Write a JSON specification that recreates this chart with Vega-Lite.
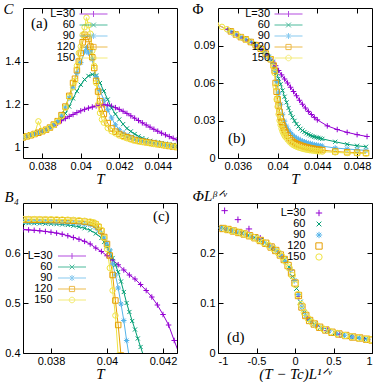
{
"$schema": "https://vega.github.io/schema/vega-lite/v6.json",
"padding": {"left": 2, "top": 0, "right": 0, "bottom": 0},
"config": {
  "view": {"stroke": "black", "strokeWidth": 1},
  "axis": {"domain": false, "ticks": false, "grid": true, "gridColor": "black", "gridWidth": 1, "gridOpacity": 1, "labelFont": "Liberation Sans", "labelFontSize": 11, "labelColor": "black", "titleFont": "Liberation Serif", "titleFontStyle": "italic", "titleFontWeight": "normal", "titleFontSize": 15, "titleColor": "black", "format": "~g", "labelExpr": "replace(datum.label, '\u2212', '-')"},
  "axisX": {"gridDash": [5, 140, 5, 1000], "labelPadding": 2, "titleBaseline": "alphabetic", "titleY": 25},
  "axisY": {"gridDash": [5, 144, 5, 1000], "labelPadding": 3, "titleAngle": 0, "titleAlign": "left", "titleBaseline": "alphabetic"},
  "legend": {"title": null, "orient": "none", "labelAlign": "right", "labelFont": "Liberation Sans", "labelFontSize": 11, "labelColor": "black", "labelOffset": 4, "symbolStrokeWidth": 1, "symbolSize": 64, "padding": 0},
  "text": {"font": "Liberation Serif", "fontSize": 15, "align": "left", "baseline": "middle", "color": "black"}
},
"datasets": {
"a": [
{"L":30,"T":0.0370,"v":1.046},{"L":30,"T":0.0372,"v":1.051},{"L":30,"T":0.0374,"v":1.056},{"L":30,"T":0.0376,"v":1.062},{"L":30,"T":0.0378,"v":1.068},{"L":30,"T":0.0380,"v":1.075},{"L":30,"T":0.0382,"v":1.082},{"L":30,"T":0.0384,"v":1.090},{"L":30,"T":0.0386,"v":1.102},{"L":30,"T":0.0388,"v":1.113},{"L":30,"T":0.0390,"v":1.124},{"L":30,"T":0.0392,"v":1.134},{"L":30,"T":0.0394,"v":1.144},{"L":30,"T":0.0396,"v":1.153},{"L":30,"T":0.0398,"v":1.162},{"L":30,"T":0.0400,"v":1.170},{"L":30,"T":0.0402,"v":1.177},{"L":30,"T":0.0404,"v":1.183},{"L":30,"T":0.0406,"v":1.188},{"L":30,"T":0.0408,"v":1.193},{"L":30,"T":0.0410,"v":1.196},{"L":30,"T":0.0412,"v":1.198},{"L":30,"T":0.0414,"v":1.197},{"L":30,"T":0.0416,"v":1.192},{"L":30,"T":0.0418,"v":1.185},{"L":30,"T":0.0420,"v":1.177},{"L":30,"T":0.0422,"v":1.168},{"L":30,"T":0.0424,"v":1.158},{"L":30,"T":0.0426,"v":1.147},{"L":30,"T":0.0428,"v":1.136},{"L":30,"T":0.0430,"v":1.125},{"L":30,"T":0.0432,"v":1.114},{"L":30,"T":0.0434,"v":1.104},{"L":30,"T":0.0436,"v":1.094},{"L":30,"T":0.0438,"v":1.084},{"L":30,"T":0.0440,"v":1.075},{"L":30,"T":0.0442,"v":1.066},{"L":30,"T":0.0444,"v":1.058},{"L":30,"T":0.0446,"v":1.050},{"L":30,"T":0.0448,"v":1.042},{"L":30,"T":0.0450,"v":1.035},
{"L":60,"T":0.0370,"v":1.046},{"L":60,"T":0.0372,"v":1.051},{"L":60,"T":0.0374,"v":1.056},{"L":60,"T":0.0376,"v":1.062},{"L":60,"T":0.0378,"v":1.068},{"L":60,"T":0.0380,"v":1.075},{"L":60,"T":0.0382,"v":1.082},{"L":60,"T":0.0384,"v":1.091},{"L":60,"T":0.0386,"v":1.103},{"L":60,"T":0.0388,"v":1.118},{"L":60,"T":0.0390,"v":1.136},{"L":60,"T":0.0392,"v":1.158},{"L":60,"T":0.0394,"v":1.190},{"L":60,"T":0.0396,"v":1.228},{"L":60,"T":0.0398,"v":1.262},{"L":60,"T":0.0400,"v":1.292},{"L":60,"T":0.0402,"v":1.316},{"L":60,"T":0.0404,"v":1.333},{"L":60,"T":0.0406,"v":1.340},{"L":60,"T":0.0408,"v":1.335},{"L":60,"T":0.0410,"v":1.300},{"L":60,"T":0.0412,"v":1.262},{"L":60,"T":0.0414,"v":1.223},{"L":60,"T":0.0416,"v":1.183},{"L":60,"T":0.0418,"v":1.155},{"L":60,"T":0.0420,"v":1.130},{"L":60,"T":0.0422,"v":1.108},{"L":60,"T":0.0424,"v":1.088},{"L":60,"T":0.0426,"v":1.074},{"L":60,"T":0.0428,"v":1.062},{"L":60,"T":0.0430,"v":1.051},{"L":60,"T":0.0432,"v":1.043},{"L":60,"T":0.0434,"v":1.036},{"L":60,"T":0.0436,"v":1.030},{"L":60,"T":0.0438,"v":1.026},{"L":60,"T":0.0440,"v":1.023},{"L":60,"T":0.0442,"v":1.020},{"L":60,"T":0.0444,"v":1.017},{"L":60,"T":0.0446,"v":1.014},{"L":60,"T":0.0448,"v":1.011},{"L":60,"T":0.0450,"v":1.009},
{"L":90,"T":0.0370,"v":1.046},{"L":90,"T":0.0372,"v":1.051},{"L":90,"T":0.0374,"v":1.056},{"L":90,"T":0.0376,"v":1.062},{"L":90,"T":0.0378,"v":1.068},{"L":90,"T":0.0380,"v":1.075},{"L":90,"T":0.0382,"v":1.082},{"L":90,"T":0.0384,"v":1.092},{"L":90,"T":0.0386,"v":1.105},{"L":90,"T":0.0388,"v":1.120},{"L":90,"T":0.0390,"v":1.150},{"L":90,"T":0.0392,"v":1.188},{"L":90,"T":0.0394,"v":1.230},{"L":90,"T":0.0396,"v":1.280},{"L":90,"T":0.0398,"v":1.345},{"L":90,"T":0.0400,"v":1.395},{"L":90,"T":0.0402,"v":1.445},{"L":90,"T":0.0403,"v":1.465},{"L":90,"T":0.0404,"v":1.440},{"L":90,"T":0.0405,"v":1.450},{"L":90,"T":0.0406,"v":1.410},{"L":90,"T":0.0408,"v":1.330},{"L":90,"T":0.0410,"v":1.265},{"L":90,"T":0.0412,"v":1.220},{"L":90,"T":0.0414,"v":1.175},{"L":90,"T":0.0416,"v":1.137},{"L":90,"T":0.0418,"v":1.105},{"L":90,"T":0.0420,"v":1.082},{"L":90,"T":0.0422,"v":1.066},{"L":90,"T":0.0424,"v":1.055},{"L":90,"T":0.0426,"v":1.047},{"L":90,"T":0.0428,"v":1.041},{"L":90,"T":0.0430,"v":1.036},{"L":90,"T":0.0432,"v":1.032},{"L":90,"T":0.0434,"v":1.028},{"L":90,"T":0.0436,"v":1.025},{"L":90,"T":0.0438,"v":1.022},{"L":90,"T":0.0440,"v":1.019},{"L":90,"T":0.0442,"v":1.016},{"L":90,"T":0.0444,"v":1.013},{"L":90,"T":0.0446,"v":1.010},{"L":90,"T":0.0448,"v":1.007},{"L":90,"T":0.0450,"v":1.004},
{"L":120,"T":0.0370,"v":1.046},{"L":120,"T":0.0372,"v":1.051},{"L":120,"T":0.0374,"v":1.056},{"L":120,"T":0.0376,"v":1.062},{"L":120,"T":0.0378,"v":1.068},{"L":120,"T":0.0380,"v":1.075},{"L":120,"T":0.0382,"v":1.082},{"L":120,"T":0.0384,"v":1.092},{"L":120,"T":0.0386,"v":1.106},{"L":120,"T":0.0388,"v":1.122},{"L":120,"T":0.0390,"v":1.150},{"L":120,"T":0.0392,"v":1.190},{"L":120,"T":0.0394,"v":1.240},{"L":120,"T":0.0396,"v":1.300},{"L":120,"T":0.0397,"v":1.320},{"L":120,"T":0.0398,"v":1.360},{"L":120,"T":0.0399,"v":1.400},{"L":120,"T":0.0400,"v":1.440},{"L":120,"T":0.0401,"v":1.490},{"L":120,"T":0.0402,"v":1.525},{"L":120,"T":0.0403,"v":1.515},{"L":120,"T":0.0404,"v":1.505},{"L":120,"T":0.0405,"v":1.470},{"L":120,"T":0.0406,"v":1.420},{"L":120,"T":0.0407,"v":1.370},{"L":120,"T":0.0408,"v":1.310},{"L":120,"T":0.0409,"v":1.260},{"L":120,"T":0.0410,"v":1.215},{"L":120,"T":0.0411,"v":1.180},{"L":120,"T":0.0412,"v":1.155},{"L":120,"T":0.0414,"v":1.113},{"L":120,"T":0.0416,"v":1.088},{"L":120,"T":0.0418,"v":1.073},{"L":120,"T":0.0420,"v":1.062},{"L":120,"T":0.0422,"v":1.054},{"L":120,"T":0.0424,"v":1.047},{"L":120,"T":0.0426,"v":1.041},{"L":120,"T":0.0428,"v":1.034},{"L":120,"T":0.0430,"v":1.030},{"L":120,"T":0.0432,"v":1.027},{"L":120,"T":0.0434,"v":1.024},{"L":120,"T":0.0436,"v":1.021},{"L":120,"T":0.0438,"v":1.018},{"L":120,"T":0.0440,"v":1.015},{"L":120,"T":0.0442,"v":1.012},{"L":120,"T":0.0444,"v":1.009},{"L":120,"T":0.0446,"v":1.006},{"L":120,"T":0.0448,"v":1.003},{"L":120,"T":0.0450,"v":1.001},
{"L":150,"T":0.0370,"v":1.046},{"L":150,"T":0.0372,"v":1.051},{"L":150,"T":0.0374,"v":1.057},{"L":150,"T":0.0376,"v":1.062},{"L":150,"T":0.0378,"v":1.121},{"L":150,"T":0.0380,"v":1.075},{"L":150,"T":0.0382,"v":1.083},{"L":150,"T":0.0384,"v":1.092},{"L":150,"T":0.0386,"v":1.104},{"L":150,"T":0.0388,"v":1.120},{"L":150,"T":0.0390,"v":1.145},{"L":150,"T":0.0392,"v":1.185},{"L":150,"T":0.0394,"v":1.235},{"L":150,"T":0.0396,"v":1.280},{"L":150,"T":0.0397,"v":1.310},{"L":150,"T":0.0398,"v":1.380},{"L":150,"T":0.0399,"v":1.440},{"L":150,"T":0.0400,"v":1.470},{"L":150,"T":0.0401,"v":1.525},{"L":150,"T":0.0402,"v":1.560},{"L":150,"T":0.0403,"v":1.605},{"L":150,"T":0.0404,"v":1.570},{"L":150,"T":0.0405,"v":1.530},{"L":150,"T":0.0406,"v":1.450},{"L":150,"T":0.0407,"v":1.380},{"L":150,"T":0.0408,"v":1.300},{"L":150,"T":0.0409,"v":1.200},{"L":150,"T":0.0410,"v":1.160},{"L":150,"T":0.0411,"v":1.130},{"L":150,"T":0.0412,"v":1.115},{"L":150,"T":0.0414,"v":1.090},{"L":150,"T":0.0416,"v":1.075},{"L":150,"T":0.0418,"v":1.065},{"L":150,"T":0.0420,"v":1.055},{"L":150,"T":0.0422,"v":1.048},{"L":150,"T":0.0424,"v":1.042},{"L":150,"T":0.0426,"v":1.036},{"L":150,"T":0.0428,"v":1.031},{"L":150,"T":0.0430,"v":1.027},{"L":150,"T":0.0432,"v":1.024},{"L":150,"T":0.0434,"v":1.021},{"L":150,"T":0.0436,"v":1.018},{"L":150,"T":0.0438,"v":1.015},{"L":150,"T":0.0440,"v":1.013},{"L":150,"T":0.0442,"v":1.010},{"L":150,"T":0.0444,"v":1.008},{"L":150,"T":0.0446,"v":1.006},{"L":150,"T":0.0448,"v":1.003},{"L":150,"T":0.0450,"v":1.001}
],
"b": [
{"L":30,"T":0.0338,"v":0.1070},{"L":30,"T":0.0350,"v":0.1027},{"L":30,"T":0.0353,"v":0.1013},{"L":30,"T":0.0356,"v":0.0998},{"L":30,"T":0.0359,"v":0.0984},{"L":30,"T":0.0362,"v":0.0971},{"L":30,"T":0.0365,"v":0.0960},{"L":30,"T":0.0368,"v":0.0949},{"L":30,"T":0.0371,"v":0.0937},{"L":30,"T":0.0374,"v":0.0923},{"L":30,"T":0.0377,"v":0.0908},{"L":30,"T":0.0380,"v":0.0893},{"L":30,"T":0.0383,"v":0.0876},{"L":30,"T":0.0386,"v":0.0857},{"L":30,"T":0.0389,"v":0.0835},{"L":30,"T":0.0392,"v":0.0808},{"L":30,"T":0.0395,"v":0.0775},{"L":30,"T":0.0398,"v":0.0738},{"L":30,"T":0.0401,"v":0.0700},{"L":30,"T":0.0404,"v":0.0665},{"L":30,"T":0.0407,"v":0.0632},{"L":30,"T":0.0410,"v":0.0600},{"L":30,"T":0.0413,"v":0.0566},{"L":30,"T":0.0416,"v":0.0532},{"L":30,"T":0.0419,"v":0.0498},{"L":30,"T":0.0422,"v":0.0462},{"L":30,"T":0.0425,"v":0.0430},{"L":30,"T":0.0428,"v":0.0400},{"L":30,"T":0.0431,"v":0.0373},{"L":30,"T":0.0434,"v":0.0348},{"L":30,"T":0.0437,"v":0.0325},{"L":30,"T":0.0440,"v":0.0305},{"L":30,"T":0.0450,"v":0.0257},{"L":30,"T":0.0460,"v":0.0228},{"L":30,"T":0.0470,"v":0.0205},{"L":30,"T":0.0480,"v":0.0187},{"L":30,"T":0.0490,"v":0.0172},
{"L":60,"T":0.0351,"v":0.1023},{"L":60,"T":0.0356,"v":0.0998},{"L":60,"T":0.0361,"v":0.0975},{"L":60,"T":0.0366,"v":0.0956},{"L":60,"T":0.0371,"v":0.0937},{"L":60,"T":0.0376,"v":0.0913},{"L":60,"T":0.0381,"v":0.0887},{"L":60,"T":0.0386,"v":0.0853},{"L":60,"T":0.0391,"v":0.0810},{"L":60,"T":0.0395,"v":0.0770},{"L":60,"T":0.0397,"v":0.0718},{"L":60,"T":0.0399,"v":0.0680},{"L":60,"T":0.0401,"v":0.0635},{"L":60,"T":0.0403,"v":0.0590},{"L":60,"T":0.0405,"v":0.0540},{"L":60,"T":0.0407,"v":0.0490},{"L":60,"T":0.0409,"v":0.0445},{"L":60,"T":0.0411,"v":0.0400},{"L":60,"T":0.0413,"v":0.0360},{"L":60,"T":0.0415,"v":0.0325},{"L":60,"T":0.0417,"v":0.0297},{"L":60,"T":0.0419,"v":0.0272},{"L":60,"T":0.0421,"v":0.0252},{"L":60,"T":0.0423,"v":0.0234},{"L":60,"T":0.0425,"v":0.0220},{"L":60,"T":0.0427,"v":0.0208},{"L":60,"T":0.0429,"v":0.0197},{"L":60,"T":0.0431,"v":0.0189},{"L":60,"T":0.0433,"v":0.0181},{"L":60,"T":0.0435,"v":0.0175},{"L":60,"T":0.0437,"v":0.0169},{"L":60,"T":0.0439,"v":0.0165},{"L":60,"T":0.0441,"v":0.0161},{"L":60,"T":0.0443,"v":0.0157},{"L":60,"T":0.0445,"v":0.0153},{"L":60,"T":0.0458,"v":0.0130},{"L":60,"T":0.0470,"v":0.0110},{"L":60,"T":0.0480,"v":0.0098},{"L":60,"T":0.0489,"v":0.0090},
{"L":90,"T":0.0352,"v":0.1018},{"L":90,"T":0.0357,"v":0.0993},{"L":90,"T":0.0362,"v":0.0971},{"L":90,"T":0.0367,"v":0.0952},{"L":90,"T":0.0372,"v":0.0932},{"L":90,"T":0.0377,"v":0.0908},{"L":90,"T":0.0382,"v":0.0880},{"L":90,"T":0.0387,"v":0.0845},{"L":90,"T":0.0392,"v":0.0800},{"L":90,"T":0.0395,"v":0.0765},{"L":90,"T":0.0397,"v":0.0700},{"L":90,"T":0.0399,"v":0.0610},{"L":90,"T":0.0401,"v":0.0520},{"L":90,"T":0.0403,"v":0.0430},{"L":90,"T":0.0405,"v":0.0350},{"L":90,"T":0.0407,"v":0.0295},{"L":90,"T":0.0409,"v":0.0255},{"L":90,"T":0.0411,"v":0.0225},{"L":90,"T":0.0413,"v":0.0203},{"L":90,"T":0.0415,"v":0.0185},{"L":90,"T":0.0417,"v":0.0170},{"L":90,"T":0.0419,"v":0.0160},{"L":90,"T":0.0421,"v":0.0151},{"L":90,"T":0.0423,"v":0.0143},{"L":90,"T":0.0425,"v":0.0136},{"L":90,"T":0.0427,"v":0.0130},{"L":90,"T":0.0429,"v":0.0124},{"L":90,"T":0.0431,"v":0.0119},{"L":90,"T":0.0433,"v":0.0115},{"L":90,"T":0.0435,"v":0.0111},{"L":90,"T":0.0437,"v":0.0107},{"L":90,"T":0.0439,"v":0.0104},{"L":90,"T":0.0441,"v":0.0101},{"L":90,"T":0.0443,"v":0.0098},{"L":90,"T":0.0445,"v":0.0095},{"L":90,"T":0.0458,"v":0.0080},{"L":90,"T":0.0470,"v":0.0072},{"L":90,"T":0.0480,"v":0.0066},{"L":90,"T":0.0489,"v":0.0061},
{"L":120,"T":0.0353,"v":0.1013},{"L":120,"T":0.0358,"v":0.0988},{"L":120,"T":0.0363,"v":0.0967},{"L":120,"T":0.0368,"v":0.0949},{"L":120,"T":0.0373,"v":0.0928},{"L":120,"T":0.0378,"v":0.0903},{"L":120,"T":0.0383,"v":0.0874},{"L":120,"T":0.0388,"v":0.0836},{"L":120,"T":0.0393,"v":0.0790},{"L":120,"T":0.0396,"v":0.0740},{"L":120,"T":0.0397,"v":0.0700},{"L":120,"T":0.0398,"v":0.0600},{"L":120,"T":0.0399,"v":0.0530},{"L":120,"T":0.0400,"v":0.0470},{"L":120,"T":0.0401,"v":0.0420},{"L":120,"T":0.0402,"v":0.0370},{"L":120,"T":0.0403,"v":0.0325},{"L":120,"T":0.0404,"v":0.0290},{"L":120,"T":0.0405,"v":0.0262},{"L":120,"T":0.0406,"v":0.0240},{"L":120,"T":0.0407,"v":0.0220},{"L":120,"T":0.0408,"v":0.0205},{"L":120,"T":0.0410,"v":0.0180},{"L":120,"T":0.0412,"v":0.0158},{"L":120,"T":0.0414,"v":0.0140},{"L":120,"T":0.0416,"v":0.0127},{"L":120,"T":0.0418,"v":0.0117},{"L":120,"T":0.0420,"v":0.0110},{"L":120,"T":0.0422,"v":0.0104},{"L":120,"T":0.0424,"v":0.0098},{"L":120,"T":0.0426,"v":0.0093},{"L":120,"T":0.0428,"v":0.0088},{"L":120,"T":0.0430,"v":0.0084},{"L":120,"T":0.0432,"v":0.0080},{"L":120,"T":0.0434,"v":0.0077},{"L":120,"T":0.0436,"v":0.0074},{"L":120,"T":0.0438,"v":0.0071},{"L":120,"T":0.0440,"v":0.0068},{"L":120,"T":0.0442,"v":0.0066},{"L":120,"T":0.0445,"v":0.0063},{"L":120,"T":0.0458,"v":0.0052},{"L":120,"T":0.0470,"v":0.0046},{"L":120,"T":0.0480,"v":0.0043},{"L":120,"T":0.0489,"v":0.0040},
{"L":150,"T":0.0338,"v":0.1070},{"L":150,"T":0.0344,"v":0.1049},{"L":150,"T":0.0349,"v":0.1031},{"L":150,"T":0.0354,"v":0.1008},{"L":150,"T":0.0359,"v":0.0984},{"L":150,"T":0.0364,"v":0.0964},{"L":150,"T":0.0369,"v":0.0945},{"L":150,"T":0.0374,"v":0.0923},{"L":150,"T":0.0379,"v":0.0898},{"L":150,"T":0.0384,"v":0.0867},{"L":150,"T":0.0389,"v":0.0827},{"L":150,"T":0.0393,"v":0.0790},{"L":150,"T":0.0396,"v":0.0730},{"L":150,"T":0.0397,"v":0.0680},{"L":150,"T":0.0398,"v":0.0570},{"L":150,"T":0.0399,"v":0.0470},{"L":150,"T":0.0400,"v":0.0410},{"L":150,"T":0.0401,"v":0.0350},{"L":150,"T":0.0402,"v":0.0300},{"L":150,"T":0.0403,"v":0.0265},{"L":150,"T":0.0404,"v":0.0235},{"L":150,"T":0.0405,"v":0.0212},{"L":150,"T":0.0406,"v":0.0195},{"L":150,"T":0.0407,"v":0.0180},{"L":150,"T":0.0408,"v":0.0168},{"L":150,"T":0.0410,"v":0.0148},{"L":150,"T":0.0412,"v":0.0130},{"L":150,"T":0.0414,"v":0.0115},{"L":150,"T":0.0416,"v":0.0103},{"L":150,"T":0.0418,"v":0.0095},{"L":150,"T":0.0420,"v":0.0088},{"L":150,"T":0.0422,"v":0.0082},{"L":150,"T":0.0424,"v":0.0077},{"L":150,"T":0.0426,"v":0.0073},{"L":150,"T":0.0428,"v":0.0069},{"L":150,"T":0.0430,"v":0.0066},{"L":150,"T":0.0432,"v":0.0063},{"L":150,"T":0.0434,"v":0.0061},{"L":150,"T":0.0436,"v":0.0059},{"L":150,"T":0.0438,"v":0.0057},{"L":150,"T":0.0440,"v":0.0055},{"L":150,"T":0.0442,"v":0.0053},{"L":150,"T":0.0445,"v":0.0051},{"L":150,"T":0.0458,"v":0.0045},{"L":150,"T":0.0470,"v":0.0040},{"L":150,"T":0.0480,"v":0.0037},{"L":150,"T":0.0489,"v":0.0035}
],
"c": [
{"L":30,"T":0.0370,"v":0.6468},{"L":30,"T":0.0372,"v":0.6462},{"L":30,"T":0.0374,"v":0.6454},{"L":30,"T":0.0376,"v":0.6444},{"L":30,"T":0.0378,"v":0.6431},{"L":30,"T":0.0380,"v":0.6416},{"L":30,"T":0.0382,"v":0.6398},{"L":30,"T":0.0384,"v":0.6376},{"L":30,"T":0.0386,"v":0.6345},{"L":30,"T":0.0388,"v":0.6310},{"L":30,"T":0.0390,"v":0.6275},{"L":30,"T":0.0392,"v":0.6233},{"L":30,"T":0.0394,"v":0.6180},{"L":30,"T":0.0396,"v":0.6100},{"L":30,"T":0.0398,"v":0.6030},{"L":30,"T":0.0400,"v":0.5945},{"L":30,"T":0.0402,"v":0.5860},{"L":30,"T":0.0404,"v":0.5765},{"L":30,"T":0.0406,"v":0.5660},{"L":30,"T":0.0408,"v":0.5560},{"L":30,"T":0.0410,"v":0.5480},{"L":30,"T":0.0412,"v":0.5370},{"L":30,"T":0.0414,"v":0.5250},{"L":30,"T":0.0416,"v":0.5120},{"L":30,"T":0.0418,"v":0.4960},{"L":30,"T":0.0420,"v":0.4770},{"L":30,"T":0.0422,"v":0.4560},{"L":30,"T":0.0424,"v":0.4250},{"L":30,"T":0.0426,"v":0.3950},
{"L":60,"T":0.0370,"v":0.6600},{"L":60,"T":0.0372,"v":0.6598},{"L":60,"T":0.0374,"v":0.6595},{"L":60,"T":0.0376,"v":0.6592},{"L":60,"T":0.0378,"v":0.6588},{"L":60,"T":0.0380,"v":0.6583},{"L":60,"T":0.0382,"v":0.6577},{"L":60,"T":0.0384,"v":0.6570},{"L":60,"T":0.0386,"v":0.6560},{"L":60,"T":0.0388,"v":0.6545},{"L":60,"T":0.0390,"v":0.6525},{"L":60,"T":0.0392,"v":0.6495},{"L":60,"T":0.0394,"v":0.6455},{"L":60,"T":0.0396,"v":0.6390},{"L":60,"T":0.0398,"v":0.6300},{"L":60,"T":0.0399,"v":0.6220},{"L":60,"T":0.0400,"v":0.6130},{"L":60,"T":0.0401,"v":0.6030},{"L":60,"T":0.0402,"v":0.5900},{"L":60,"T":0.0403,"v":0.5760},{"L":60,"T":0.0404,"v":0.5620},{"L":60,"T":0.0405,"v":0.5430},{"L":60,"T":0.0406,"v":0.5220},{"L":60,"T":0.0407,"v":0.5000},{"L":60,"T":0.0408,"v":0.4820},{"L":60,"T":0.0409,"v":0.4640},{"L":60,"T":0.0410,"v":0.4470},{"L":60,"T":0.0411,"v":0.4290},{"L":60,"T":0.0412,"v":0.4120},{"L":60,"T":0.0413,"v":0.3950},
{"L":90,"T":0.0370,"v":0.6627},{"L":90,"T":0.0372,"v":0.6626},{"L":90,"T":0.0374,"v":0.6624},{"L":90,"T":0.0376,"v":0.6622},{"L":90,"T":0.0378,"v":0.6620},{"L":90,"T":0.0380,"v":0.6617},{"L":90,"T":0.0382,"v":0.6614},{"L":90,"T":0.0384,"v":0.6610},{"L":90,"T":0.0386,"v":0.6605},{"L":90,"T":0.0388,"v":0.6598},{"L":90,"T":0.0390,"v":0.6590},{"L":90,"T":0.0392,"v":0.6578},{"L":90,"T":0.0394,"v":0.6560},{"L":90,"T":0.0396,"v":0.6505},{"L":90,"T":0.0397,"v":0.6460},{"L":90,"T":0.0398,"v":0.6390},{"L":90,"T":0.0399,"v":0.6300},{"L":90,"T":0.0400,"v":0.6200},{"L":90,"T":0.0401,"v":0.6060},{"L":90,"T":0.0402,"v":0.5780},{"L":90,"T":0.0403,"v":0.5560},{"L":90,"T":0.0404,"v":0.5300},{"L":90,"T":0.0405,"v":0.4980},{"L":90,"T":0.0406,"v":0.4650},{"L":90,"T":0.0407,"v":0.4250},{"L":90,"T":0.0408,"v":0.3900},
{"L":120,"T":0.0370,"v":0.6667},{"L":120,"T":0.0372,"v":0.6666},{"L":120,"T":0.0374,"v":0.6665},{"L":120,"T":0.0376,"v":0.6664},{"L":120,"T":0.0378,"v":0.6662},{"L":120,"T":0.0380,"v":0.6660},{"L":120,"T":0.0382,"v":0.6657},{"L":120,"T":0.0384,"v":0.6654},{"L":120,"T":0.0386,"v":0.6650},{"L":120,"T":0.0388,"v":0.6645},{"L":120,"T":0.0390,"v":0.6638},{"L":120,"T":0.0392,"v":0.6628},{"L":120,"T":0.0394,"v":0.6612},{"L":120,"T":0.0395,"v":0.6600},{"L":120,"T":0.0396,"v":0.6570},{"L":120,"T":0.0397,"v":0.6520},{"L":120,"T":0.0398,"v":0.6440},{"L":120,"T":0.0399,"v":0.6320},{"L":120,"T":0.0400,"v":0.6180},{"L":120,"T":0.0401,"v":0.5950},{"L":120,"T":0.0402,"v":0.5560},{"L":120,"T":0.0403,"v":0.5050},{"L":120,"T":0.0404,"v":0.4560},{"L":120,"T":0.0405,"v":0.3950},
{"L":150,"T":0.0370,"v":0.6680},{"L":150,"T":0.0372,"v":0.6680},{"L":150,"T":0.0374,"v":0.6679},{"L":150,"T":0.0376,"v":0.6678},{"L":150,"T":0.0378,"v":0.6677},{"L":150,"T":0.0380,"v":0.6676},{"L":150,"T":0.0382,"v":0.6674},{"L":150,"T":0.0384,"v":0.6671},{"L":150,"T":0.0386,"v":0.6668},{"L":150,"T":0.0388,"v":0.6663},{"L":150,"T":0.0390,"v":0.6656},{"L":150,"T":0.0392,"v":0.6645},{"L":150,"T":0.0394,"v":0.6630},{"L":150,"T":0.0395,"v":0.6615},{"L":150,"T":0.0396,"v":0.6590},{"L":150,"T":0.0397,"v":0.6540},{"L":150,"T":0.0398,"v":0.6460},{"L":150,"T":0.0399,"v":0.6300},{"L":150,"T":0.0400,"v":0.6080},{"L":150,"T":0.0401,"v":0.5700},{"L":150,"T":0.0402,"v":0.5250},{"L":150,"T":0.0403,"v":0.4750},{"L":150,"T":0.0404,"v":0.3950}
],
"d": [
{"L":30,"T":-0.914,"v":0.2847},{"L":30,"T":-0.741,"v":0.2667},{"L":30,"T":-0.598,"v":0.2481},{"L":30,"T":-0.451,"v":0.2295},{"L":30,"T":-0.30,"v":0.212},{"L":30,"T":-0.17,"v":0.193},{"L":30,"T":-0.06,"v":0.166},{"L":30,"T":0.05,"v":0.113},{"L":30,"T":0.16,"v":0.070},{"L":30,"T":0.28,"v":0.054},{"L":30,"T":0.42,"v":0.045},{"L":30,"T":0.58,"v":0.0375},{"L":30,"T":0.74,"v":0.032},{"L":30,"T":0.90,"v":0.028},
{"L":60,"T":-0.93,"v":0.249},{"L":60,"T":-0.85,"v":0.246},{"L":60,"T":-0.77,"v":0.243},{"L":60,"T":-0.69,"v":0.2395},{"L":60,"T":-0.61,"v":0.2355},{"L":60,"T":-0.53,"v":0.231},{"L":60,"T":-0.45,"v":0.225},{"L":60,"T":-0.37,"v":0.218},{"L":60,"T":-0.29,"v":0.210},{"L":60,"T":-0.21,"v":0.1995},{"L":60,"T":-0.14,"v":0.187},{"L":60,"T":-0.08,"v":0.172},{"L":60,"T":-0.03,"v":0.153},{"L":60,"T":0.02,"v":0.129},{"L":60,"T":0.07,"v":0.102},{"L":60,"T":0.12,"v":0.081},{"L":60,"T":0.18,"v":0.067},{"L":60,"T":0.25,"v":0.058},{"L":60,"T":0.33,"v":0.051},{"L":60,"T":0.42,"v":0.045},{"L":60,"T":0.52,"v":0.040},{"L":60,"T":0.62,"v":0.036},{"L":60,"T":0.72,"v":0.033},{"L":60,"T":0.82,"v":0.0305},{"L":60,"T":0.92,"v":0.028},
{"L":90,"T":-0.96,"v":0.250},{"L":90,"T":-0.89,"v":0.2475},{"L":90,"T":-0.81,"v":0.2445},{"L":90,"T":-0.73,"v":0.241},{"L":90,"T":-0.65,"v":0.2375},{"L":90,"T":-0.57,"v":0.233},{"L":90,"T":-0.49,"v":0.2285},{"L":90,"T":-0.41,"v":0.222},{"L":90,"T":-0.33,"v":0.214},{"L":90,"T":-0.25,"v":0.205},{"L":90,"T":-0.18,"v":0.194},{"L":90,"T":-0.12,"v":0.183},{"L":90,"T":-0.06,"v":0.166},{"L":90,"T":-0.01,"v":0.145},{"L":90,"T":0.04,"v":0.117},{"L":90,"T":0.09,"v":0.092},{"L":90,"T":0.14,"v":0.075},{"L":90,"T":0.20,"v":0.064},{"L":90,"T":0.27,"v":0.056},{"L":90,"T":0.35,"v":0.049},{"L":90,"T":0.44,"v":0.044},{"L":90,"T":0.54,"v":0.039},{"L":90,"T":0.64,"v":0.0355},{"L":90,"T":0.74,"v":0.032},{"L":90,"T":0.84,"v":0.030},{"L":90,"T":0.94,"v":0.027},
{"L":120,"T":-0.935,"v":0.249},{"L":120,"T":-0.87,"v":0.247},{"L":120,"T":-0.80,"v":0.244},{"L":120,"T":-0.73,"v":0.241},{"L":120,"T":-0.66,"v":0.238},{"L":120,"T":-0.59,"v":0.2345},{"L":120,"T":-0.52,"v":0.2305},{"L":120,"T":-0.45,"v":0.225},{"L":120,"T":-0.38,"v":0.2195},{"L":120,"T":-0.31,"v":0.212},{"L":120,"T":-0.25,"v":0.205},{"L":120,"T":-0.19,"v":0.196},{"L":120,"T":-0.14,"v":0.187},{"L":120,"T":-0.09,"v":0.175},{"L":120,"T":-0.045,"v":0.160},{"L":120,"T":0.0,"v":0.140},{"L":120,"T":0.045,"v":0.115},{"L":120,"T":0.09,"v":0.092},{"L":120,"T":0.14,"v":0.075},{"L":120,"T":0.19,"v":0.065},{"L":120,"T":0.25,"v":0.058},{"L":120,"T":0.32,"v":0.0515},{"L":120,"T":0.40,"v":0.046},{"L":120,"T":0.48,"v":0.0415},{"L":120,"T":0.57,"v":0.038},{"L":120,"T":0.66,"v":0.035},{"L":120,"T":0.75,"v":0.032},{"L":120,"T":0.84,"v":0.030},{"L":120,"T":0.93,"v":0.0275},{"L":120,"T":1.0,"v":0.026},
{"L":150,"T":-0.90,"v":0.248},{"L":150,"T":-0.83,"v":0.245},{"L":150,"T":-0.76,"v":0.2425},{"L":150,"T":-0.69,"v":0.2395},{"L":150,"T":-0.62,"v":0.236},{"L":150,"T":-0.55,"v":0.232},{"L":150,"T":-0.48,"v":0.227},{"L":150,"T":-0.41,"v":0.221},{"L":150,"T":-0.34,"v":0.215},{"L":150,"T":-0.28,"v":0.2085},{"L":150,"T":-0.22,"v":0.201},{"L":150,"T":-0.17,"v":0.193},{"L":150,"T":-0.12,"v":0.183},{"L":150,"T":-0.075,"v":0.170},{"L":150,"T":-0.035,"v":0.155},{"L":150,"T":0.005,"v":0.137},{"L":150,"T":0.04,"v":0.117},{"L":150,"T":0.08,"v":0.097},{"L":150,"T":0.12,"v":0.081},{"L":150,"T":0.17,"v":0.069},{"L":150,"T":0.22,"v":0.0615},{"L":150,"T":0.29,"v":0.054},{"L":150,"T":0.37,"v":0.048},{"L":150,"T":0.46,"v":0.0425},{"L":150,"T":0.55,"v":0.039},{"L":150,"T":0.65,"v":0.035},{"L":150,"T":0.74,"v":0.0325},{"L":150,"T":0.83,"v":0.030},{"L":150,"T":0.92,"v":0.028},{"L":150,"T":0.98,"v":0.0265}
]
},
"columns": 2,
"spacing": {"row": 0, "column": 13},
"resolve": {"scale": {"color": "independent", "shape": "independent"}, "legend": {"color": "independent", "shape": "independent"}},
"concat": [
{
 "width": 154, "height": 150,
 "encoding": {
   "x": {"field": "T", "type": "quantitative", "scale": {"domain": [0.037, 0.045], "nice": false, "zero": false}, "axis": {"title": "T", "values": [0.038, 0.04, 0.042, 0.044]}},
   "y": {"field": "v", "type": "quantitative", "scale": {"domain": [0.95, 1.65], "nice": false, "zero": false}, "axis": {"title": "C", "values": [1, 1.2, 1.4], "titleX": -20, "titleY": 5}}
 },
 "layer": [
  {"data": {"name": "a"}, "mark": {"type": "line", "strokeWidth": 1, "clip": true},
   "encoding": {"color": {"field": "L", "type": "nominal", "scale": {"domain": [30, 60, 90, 120, 150], "range": ["#9400d3", "#009e73", "#56b4e9", "#e69f00", "#f0e442"]}, "legend": null}}},
  {"data": {"name": "a"}, "mark": {"type": "point", "filled": false, "strokeWidth": 1, "size": 30, "opacity": 1, "clip": true},
   "encoding": {"color": {"field": "L", "type": "nominal", "scale": {"domain": [30, 60, 90, 120, 150], "range": ["#9400d3", "#009e73", "#56b4e9", "#e69f00", "#f0e442"]}, "legend": null},
     "shape": {"field": "L", "type": "nominal", "scale": {"domain": [30, 60, 90, 120, 150], "range": ["M-1,0L1,0M0,-1L0,1", "M-0.75,-0.75L0.75,0.75M-0.75,0.75L0.75,-0.75", "M-1,0L1,0M0,-1L0,1M-0.7,-0.7L0.7,0.7M-0.7,0.7L0.7,-0.7", "square", "circle"]}, "legend": null}}},
  {"data": {"values": []}, "mark": {"type": "point", "filled": false, "strokeWidth": 1, "size": 64},
   "encoding": {"color": {"field": "L", "type": "nominal", "scale": {"domain": [30, 60, 90, 120, 150], "range": ["#9400d3", "#009e73", "#56b4e9", "#e69f00", "#f0e442"]}, "legend": {"legendX": 65, "legendY": 0.5, "rowPadding": -2.5, "labelExpr": "datum.value == 30 ? 'L=30' : datum.label", "encoding": {"labels": {"dx": {"value": -28}}}}},
     "shape": {"field": "L", "type": "nominal", "scale": {"domain": [30, 60, 90, 120, 150], "range": ["M-3.5,0L3.5,0M0,-0.75L0,0.75", "M-3.5,0L3.5,0M-0.6,-0.6L0.6,0.6M-0.6,0.6L0.6,-0.6", "M-3.5,0L3.5,0M0,-0.75L0,0.75M-0.55,-0.55L0.55,0.55M-0.55,0.55L0.55,-0.55", "M-3.5,0L3.5,0M-0.65,-0.65L0.65,-0.65L0.65,0.65L-0.65,0.65Z", "M-3.5,0L3.5,0M0.7,0A0.7,0.7 0 1 1 -0.7,0A0.7,0.7 0 1 1 0.7,0"]}, "legend": {"legendX": 65, "legendY": 0.5, "rowPadding": -2.5, "labelExpr": "datum.value == 30 ? 'L=30' : datum.label", "encoding": {"labels": {"dx": {"value": -28}}}}}}},
  {"data": {"values": [{"T": 0.03742, "v": 1.58}]}, "mark": {"type": "text", "text": "(a)"}}
 ],
 "resolve": {"scale": {"color": "independent", "shape": "independent"}}
},
{
 "width": 154, "height": 150,
 "encoding": {
   "x": {"field": "T", "type": "quantitative", "scale": {"domain": [0.034, 0.0495], "nice": false, "zero": false}, "axis": {"title": "T", "values": [0.036, 0.04, 0.044, 0.048]}},
   "y": {"field": "v", "type": "quantitative", "scale": {"domain": [0, 0.12], "nice": false, "zero": false}, "axis": {"title": "Φ", "titleFontStyle": "normal", "values": [0, 0.03, 0.06, 0.09], "titleX": -26, "titleY": 5}}
 },
 "layer": [
  {"data": {"name": "b"}, "mark": {"type": "line", "strokeWidth": 1, "clip": true},
   "encoding": {"color": {"field": "L", "type": "nominal", "scale": {"domain": [30, 60, 90, 120, 150], "range": ["#9400d3", "#009e73", "#56b4e9", "#e69f00", "#f0e442"]}, "legend": null}}},
  {"data": {"name": "b"}, "mark": {"type": "point", "filled": false, "strokeWidth": 1, "size": 30, "opacity": 1, "clip": true},
   "encoding": {"color": {"field": "L", "type": "nominal", "scale": {"domain": [30, 60, 90, 120, 150], "range": ["#9400d3", "#009e73", "#56b4e9", "#e69f00", "#f0e442"]}, "legend": null},
     "shape": {"field": "L", "type": "nominal", "scale": {"domain": [30, 60, 90, 120, 150], "range": ["M-1,0L1,0M0,-1L0,1", "M-0.75,-0.75L0.75,0.75M-0.75,0.75L0.75,-0.75", "M-1,0L1,0M0,-1L0,1M-0.7,-0.7L0.7,0.7M-0.7,0.7L0.7,-0.7", "square", "circle"]}, "legend": null}}},
  {"data": {"values": []}, "mark": {"type": "point", "filled": false, "strokeWidth": 1, "size": 64},
   "encoding": {"color": {"field": "L", "type": "nominal", "scale": {"domain": [30, 60, 90, 120, 150], "range": ["#9400d3", "#009e73", "#56b4e9", "#e69f00", "#f0e442"]}, "legend": {"legendX": 65, "legendY": 0.5, "rowPadding": -2.5, "labelExpr": "datum.value == 30 ? 'L=30' : datum.label", "encoding": {"labels": {"dx": {"value": -28}}}}},
     "shape": {"field": "L", "type": "nominal", "scale": {"domain": [30, 60, 90, 120, 150], "range": ["M-3.5,0L3.5,0M0,-0.75L0,0.75", "M-3.5,0L3.5,0M-0.6,-0.6L0.6,0.6M-0.6,0.6L0.6,-0.6", "M-3.5,0L3.5,0M0,-0.75L0,0.75M-0.55,-0.55L0.55,0.55M-0.55,0.55L0.55,-0.55", "M-3.5,0L3.5,0M-0.65,-0.65L0.65,-0.65L0.65,0.65L-0.65,0.65Z", "M-3.5,0L3.5,0M0.7,0A0.7,0.7 0 1 1 -0.7,0A0.7,0.7 0 1 1 0.7,0"]}, "legend": {"legendX": 65, "legendY": 0.5, "rowPadding": -2.5, "labelExpr": "datum.value == 30 ? 'L=30' : datum.label", "encoding": {"labels": {"dx": {"value": -28}}}}}}},
  {"data": {"values": [{"T": 0.035, "v": 0.0162}]}, "mark": {"type": "text", "text": "(b)"}}
 ],
 "resolve": {"scale": {"color": "independent", "shape": "independent"}}
},
{
 "width": 154, "height": 150,
 "encoding": {
   "x": {"field": "T", "type": "quantitative", "scale": {"domain": [0.037, 0.0425], "nice": false, "zero": false}, "axis": {"title": "T", "values": [0.038, 0.04, 0.042]}},
   "y": {"field": "v", "type": "quantitative", "scale": {"domain": [0.4, 0.7], "nice": false, "zero": false}, "axis": {"title": "B₄", "values": [0.4, 0.5, 0.6], "titleX": -19, "titleY": -2}}
 },
 "layer": [
  {"data": {"name": "c"}, "mark": {"type": "line", "strokeWidth": 1, "clip": true},
   "encoding": {"color": {"field": "L", "type": "nominal", "scale": {"domain": [30, 60, 90, 120, 150], "range": ["#9400d3", "#009e73", "#56b4e9", "#e69f00", "#f0e442"]}, "legend": null}}},
  {"data": {"name": "c"}, "mark": {"type": "point", "filled": false, "strokeWidth": 1, "size": 30, "opacity": 1, "clip": true},
   "encoding": {"color": {"field": "L", "type": "nominal", "scale": {"domain": [30, 60, 90, 120, 150], "range": ["#9400d3", "#009e73", "#56b4e9", "#e69f00", "#f0e442"]}, "legend": null},
     "shape": {"field": "L", "type": "nominal", "scale": {"domain": [30, 60, 90, 120, 150], "range": ["M-1,0L1,0M0,-1L0,1", "M-0.75,-0.75L0.75,0.75M-0.75,0.75L0.75,-0.75", "M-1,0L1,0M0,-1L0,1M-0.7,-0.7L0.7,0.7M-0.7,0.7L0.7,-0.7", "square", "circle"]}, "legend": null}}},
  {"data": {"values": []}, "mark": {"type": "point", "filled": false, "strokeWidth": 1, "size": 64},
   "encoding": {"color": {"field": "L", "type": "nominal", "scale": {"domain": [30, 60, 90, 120, 150], "range": ["#9400d3", "#009e73", "#56b4e9", "#e69f00", "#f0e442"]}, "legend": {"legendX": 43.5, "legendY": 47.5, "rowPadding": -1.3, "labelExpr": "datum.value == 30 ? 'L=30' : datum.label", "encoding": {"labels": {"dx": {"value": -29}}}}},
     "shape": {"field": "L", "type": "nominal", "scale": {"domain": [30, 60, 90, 120, 150], "range": ["M-3.5,0L3.5,0M0,-0.75L0,0.75", "M-3.5,0L3.5,0M-0.6,-0.6L0.6,0.6M-0.6,0.6L0.6,-0.6", "M-3.5,0L3.5,0M0,-0.75L0,0.75M-0.55,-0.55L0.55,0.55M-0.55,0.55L0.55,-0.55", "M-3.5,0L3.5,0M-0.65,-0.65L0.65,-0.65L0.65,0.65L-0.65,0.65Z", "M-3.5,0L3.5,0M0.7,0A0.7,0.7 0 1 1 -0.7,0A0.7,0.7 0 1 1 0.7,0"]}, "legend": {"legendX": 43.5, "legendY": 47.5, "rowPadding": -1.3, "labelExpr": "datum.value == 30 ? 'L=30' : datum.label", "encoding": {"labels": {"dx": {"value": -29}}}}}}},
  {"data": {"values": [{"T": 0.04164, "v": 0.674}]}, "mark": {"type": "text", "text": "(c)"}}
 ],
 "resolve": {"scale": {"color": "independent", "shape": "independent"}}
},
{
 "width": 154, "height": 150,
 "encoding": {
   "x": {"field": "T", "type": "quantitative", "scale": {"domain": [-1, 1], "nice": false, "zero": false}, "axis": {"title": "(T − Tc)L¹ᐟᵛ", "values": [-1, -0.5, 0, 0.5, 1]}},
   "y": {"field": "v", "type": "quantitative", "scale": {"domain": [0, 0.3], "nice": false, "zero": false}, "axis": {"title": "ΦLᵝᐟᵛ", "values": [0, 0.1, 0.2], "titleX": -26, "titleY": -3}}
 },
 "layer": [
  {"data": {"name": "d"}, "mark": {"type": "point", "filled": false, "strokeWidth": 1, "size": 40, "opacity": 1, "clip": true},
   "encoding": {"color": {"field": "L", "type": "nominal", "scale": {"domain": [30, 60, 90, 120, 150], "range": ["#9400d3", "#009e73", "#56b4e9", "#e69f00", "#f0e442"]},
     "legend": {"legendX": 95.5, "legendY": 4.5, "symbolSize": 40, "rowPadding": -2.5, "labelExpr": "datum.value == 30 ? 'L=30' : datum.label", "encoding": {"labels": {"dx": {"value": -23}}}}},
     "shape": {"field": "L", "type": "nominal", "scale": {"domain": [30, 60, 90, 120, 150], "range": ["M-1,0L1,0M0,-1L0,1", "M-0.75,-0.75L0.75,0.75M-0.75,0.75L0.75,-0.75", "M-1,0L1,0M0,-1L0,1M-0.7,-0.7L0.7,0.7M-0.7,0.7L0.7,-0.7", "square", "circle"]},
     "legend": {"legendX": 95.5, "legendY": 4.5, "symbolSize": 40, "rowPadding": -2.5, "labelExpr": "datum.value == 30 ? 'L=30' : datum.label", "encoding": {"labels": {"dx": {"value": -23}}}}}}},
  {"data": {"values": [{"T": -0.884, "v": 0.032}]}, "mark": {"type": "text", "text": "(d)"}}
 ]
}
]
}
